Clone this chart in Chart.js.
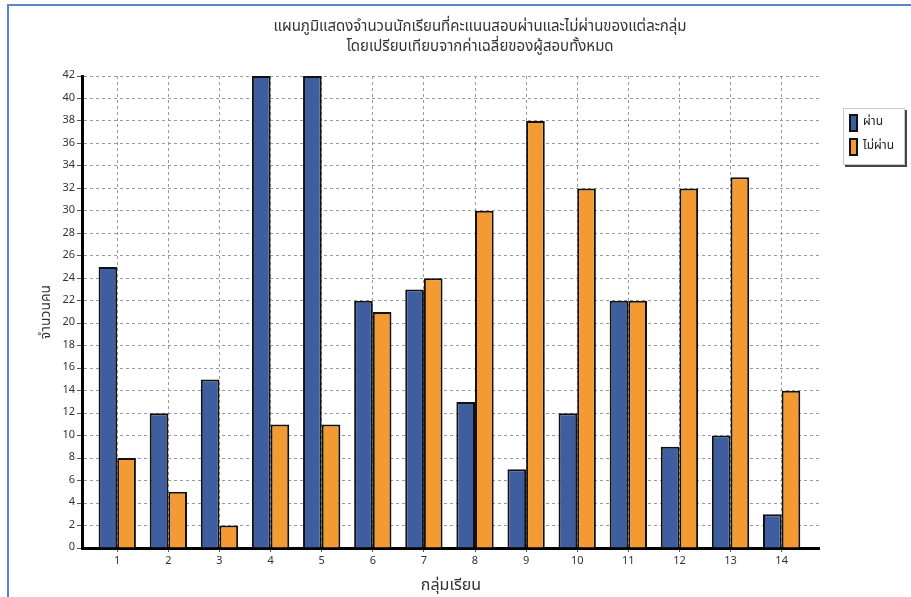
<!DOCTYPE html>
<html>
<head>
<meta charset="utf-8">
<script src="https://cdn.jsdelivr.net/npm/chart.js@4/dist/chart.umd.min.js"></script>
<style>
  html, body { margin: 0; padding: 0; background: #fff; overflow: hidden; }
  #wrap { position: relative; width: 911px; height: 597px; }
  #frame { position: absolute; left: 7px; top: 4px; width: 904px; height: 600px;
           border-top: 2px solid #5A86C4; border-left: 2px solid #5A86C4; }
  #title { position: absolute; left: 50px; width: 860px; top: 17px; text-align: center;
           font: 15px Tahoma, "Noto Sans Thai", "DejaVu Sans", sans-serif; line-height: 20px; color: #333; }
  canvas { position: absolute; left: 0; top: 0; }
</style>
</head>
<body>
<div id="wrap">
  <div id="frame"></div>
  <canvas id="grafica" width="911" height="597"></canvas>
  <div id="title">แผนภูมิแสดงจำนวนนักเรียนที่คะแนนสอบผ่านและไม่ผ่านของแต่ละกลุ่ม<br>โดยเปรียบเทียบจากค่าเฉลี่ยของผู้สอบทั้งหมด</div>
</div>
<script>
const grupos = [1, 2, 3, 4, 5, 6, 7, 8, 9, 10, 11, 12, 13, 14];
const pasaron = [25, 12, 15, 42, 42, 22, 23, 13, 7, 12, 22, 9, 10, 3];
const noPasaron = [8, 5, 2, 11, 11, 21, 24, 30, 38, 32, 22, 32, 33, 14];
const nombres = ['ผ่าน', 'ไม่ผ่าน'];
const tituloX = 'กลุ่มเรียน';
const tituloY = 'จำนวนคน';
const yMax = 42;
const yPaso = 2;

Chart.defaults.font.family = 'Tahoma, "Noto Sans Thai", "DejaVu Sans", sans-serif';
Chart.defaults.color = '#333';

// mueve la leyenda a su caja y dibuja el marco con sombra
const marcoLeyenda = {
  id: 'marcoLeyenda',
  afterLayout(chart) {
    const lg = chart.legend;
    const w = lg.right - lg.left, h = lg.bottom - lg.top;
    lg.left = 842; lg.right = 842 + w;
    lg.top = 107; lg.bottom = 107 + h;
  },
  beforeDraw(chart) {
    const ctx = chart.ctx;
    ctx.save();
    ctx.fillStyle = '#444';
    ctx.fillRect(845, 110, 62, 57);
    ctx.fillStyle = '#fff';
    ctx.fillRect(843, 108, 62, 57);
    ctx.strokeStyle = '#c8c8c8';
    ctx.lineWidth = 1;
    ctx.strokeRect(843.5, 108.5, 61, 56);
    ctx.restore();
  }
};

const ctx = document.getElementById('grafica').getContext('2d');
new Chart(ctx, {
  type: 'bar',
  data: {
    datasets: [
      {
        label: nombres[0],
        data: grupos.map((g, i) => ({ x: g, y: pasaron[i] })),
        backgroundColor: '#3F5E9F',
        borderColor: '#111',
        borderWidth: 2,
        borderSkipped: 'bottom'
      },
      {
        label: nombres[1],
        data: grupos.map((g, i) => ({ x: g, y: noPasaron[i] })),
        backgroundColor: '#F39B32',
        borderColor: '#111',
        borderWidth: 2,
        borderSkipped: 'bottom'
      }
    ]
  },
  options: {
    responsive: false,
    animation: false,
    categoryPercentage: 0.73,
    barPercentage: 1.0,
    layout: { padding: { top: 76, left: 32, right: 29, bottom: 0 } },
    plugins: {
      legend: {
        position: 'right',
        align: 'start',
        labels: { boxWidth: 7, boxHeight: 16, padding: 8, font: { size: 12 }, color: '#222' }
      },
      tooltip: { enabled: false }
    },
    scales: {
      x: {
        type: 'linear',
        offset: false,
        min: 0.31,
        max: 14.75,
        afterFit(s) { s.height = 49; },
        border: { color: '#000', width: 3, dash: [3, 3] },
        grid: { offset: false, color: '#9a9a9a', tickColor: '#555', tickLength: 4 },
        ticks: {
          stepSize: 1, includeBounds: false, autoSkip: false, padding: 3, maxRotation: 0,
          font: { size: 11 },
          callback: v => Number.isInteger(v) ? v : ''
        },
        title: { display: true, text: tituloX, font: { size: 16 }, padding: { top: 0, bottom: 1 } }
      },
      y: {
        min: 0,
        max: yMax,
        afterFit(s) { s.width = 50; },
        border: { color: '#000', width: 3, dash: [3, 3] },
        grid: { color: '#9a9a9a', tickColor: '#555', tickLength: 5 },
        ticks: { stepSize: yPaso, padding: 2, font: { size: 11 } },
        title: { display: true, text: tituloY, font: { size: 14 }, padding: { top: 7, bottom: 0 } }
      }
    }
  },
  plugins: [marcoLeyenda]
});
</script>
</body>
</html>
